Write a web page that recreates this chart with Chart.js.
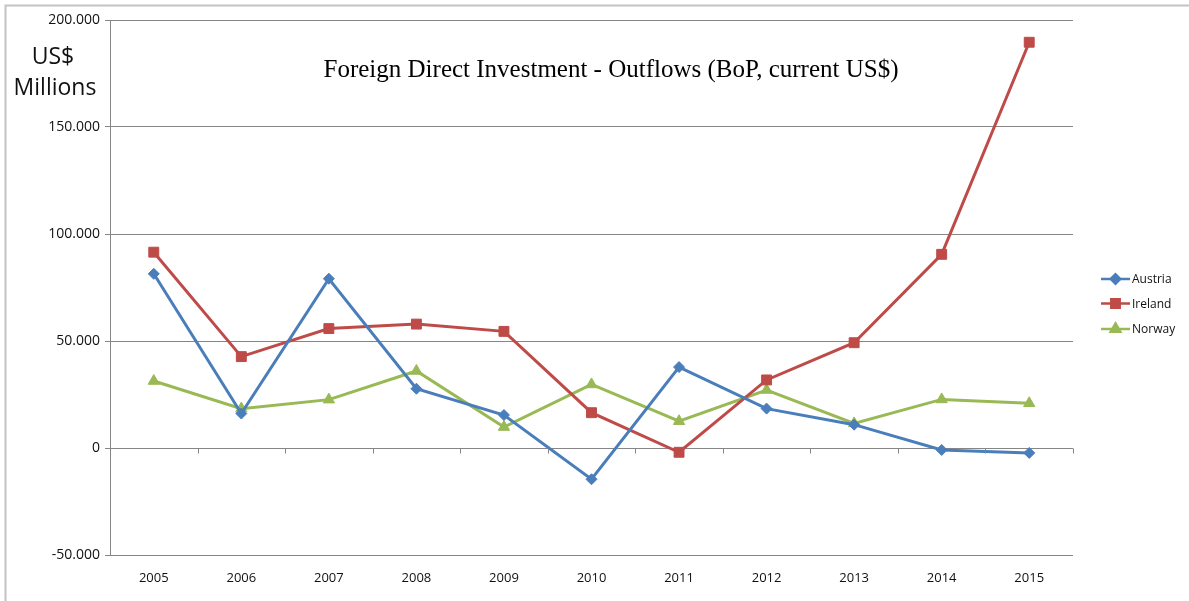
<!DOCTYPE html>
<html>
<head>
<meta charset="utf-8">
<script src="https://cdn.jsdelivr.net/npm/chart.js@4/dist/chart.umd.min.js"></script>
<style>
  html, body { margin: 0; padding: 0; background: #ffffff; }
  #fdi { display: block; }
</style>
</head>
<body>
<canvas id="fdi" width="1189" height="601"></canvas>
<script>
// Años y salidas de IED (millones de US$)
const years = ['2005', '2006', '2007', '2008', '2009', '2010', '2011', '2012', '2013', '2014', '2015'];
const austria = [81400, 16100, 79100, 27700, 15400, -14600, 37800, 18400, 10900, -900, -2300];
const ireland = [91500, 42700, 55800, 57900, 54500, 16500, -2000, 31800, 49200, 90500, 189600];
const norway = [31300, 18400, 22600, 36000, 9800, 29700, 12500, 27100, 11500, 22700, 20900];

const titleText = 'Foreign Direct Investment - Outflows (BoP, current US$)';
const unitLines = ['US$', 'Millions'];

const GRID = '#868686';
const FONT = '"Open Sans", "Noto Sans", sans-serif';

// 200000 -> "200.000"
function formatThousands(v) {
  const s = Math.abs(v).toString().replace(/\B(?=(\d{3})+(?!\d))/g, '.');
  return (v < 0 ? '-' : '') + s;
}

// Marco, eje en cero, título, unidades y leyenda
const decorations = {
  id: 'decorations',
  beforeDraw(chart) {
    const ctx = chart.ctx;
    ctx.save();
    ctx.strokeStyle = '#c3c3c3';
    ctx.lineWidth = 2;
    ctx.beginPath();
    ctx.moveTo(chart.width, 5.5);
    ctx.lineTo(5.5, 5.5);
    ctx.lineTo(5.5, chart.height);
    ctx.stroke();
    ctx.restore();
  },
  afterDatasetsDraw(chart) {
    const { ctx, scales } = chart;
    const x = scales.x;
    const y0 = Math.round(scales.y.getPixelForValue(0)) + 0.5;

    // marcas del eje de categorías sobre la línea de cero
    ctx.save();
    ctx.strokeStyle = GRID;
    ctx.lineWidth = 1;
    ctx.beginPath();
    const step = x.getPixelForValue(1) - x.getPixelForValue(0);
    for (let i = 0; i <= years.length; i++) {
      const px = Math.round(x.getPixelForValue(0) - step / 2 + i * step) + 0.5;
      ctx.moveTo(px, y0);
      ctx.lineTo(px, y0 + 5);
    }
    ctx.stroke();
    ctx.restore();
  },
  afterDraw(chart) {
    const { ctx, chartArea } = chart;
    ctx.save();
    ctx.fillStyle = '#000000';
    ctx.textAlign = 'center';
    ctx.textBaseline = 'middle';
    ctx.font = '25px "Liberation Serif", "Times New Roman", serif';
    ctx.fillText(titleText, 611, 70);

    ctx.font = '23px ' + FONT;
    ctx.fillStyle = '#111111';
    ctx.fillText(unitLines[0], 53, 57);
    ctx.fillText(unitLines[1], 55, 88);

    // leyenda: línea con marcador
    ctx.font = '12px ' + FONT;
    ctx.textAlign = 'left';
    const lx = chartArea.right + 28;
    const rows = [279, 303.5, 329];
    chart.data.datasets.forEach((ds, i) => {
      const ly = rows[i];
      ctx.strokeStyle = ds.borderColor;
      ctx.lineWidth = 2.5;
      ctx.beginPath();
      ctx.moveTo(lx, ly);
      ctx.lineTo(lx + 29, ly);
      ctx.stroke();
      ctx.fillStyle = ds.backgroundColor;
      Chart.helpers.drawPoint(ctx, {
        pointStyle: ds.pointStyle,
        radius: ds.pointRadius * 0.85,
        rotation: 0,
        borderWidth: 1
      }, lx + 14.5, ly);
      ctx.fill();
      ctx.fillStyle = '#111111';
      ctx.fillText(ds.label, lx + 31, ly + 1);
    });
    ctx.restore();
  }
};

function series(label, data, color, pointStyle, radius) {
  return {
    label,
    data,
    borderColor: color,
    backgroundColor: color,
    borderWidth: 3,
    pointStyle,
    pointRadius: radius,
    pointHoverRadius: radius,
    pointBorderWidth: 1,
    tension: 0
  };
}

new Chart(document.getElementById('fdi'), {
  type: 'line',
  data: {
    labels: years,
    datasets: [
      series('Austria', austria, '#4a7ebb', 'rectRot', 5.5),
      series('Ireland', ireland, '#be4b48', 'rect', 7),
      series('Norway', norway, '#98b954', 'triangle', 6.5)
    ]
  },
  options: {
    responsive: false,
    animation: false,
    events: [],
    layout: { padding: { top: 20, right: 116, bottom: 0, left: 0 } },
    plugins: {
      legend: { display: false },
      title: { display: false },
      tooltip: { enabled: false }
    },
    scales: {
      x: {
        offset: true,
        grid: { display: false, drawTicks: false },
        border: { display: false },
        ticks: {
          padding: 15,
          color: '#111111',
          font: { family: FONT, size: 13 }
        },
        afterFit(scale) { scale.height = 46; }
      },
      y: {
        min: -50000,
        max: 200000,
        ticks: {
          stepSize: 50000,
          padding: 5,
          color: '#111111',
          font: { family: FONT, size: 14 },
          callback: (v) => formatThousands(v)
        },
        grid: { color: GRID, lineWidth: 1, tickLength: 5 },
        border: { color: GRID, width: 1 },
        afterFit(scale) { scale.width = 110; }
      }
    }
  },
  plugins: [decorations]
});
</script>
</body>
</html>
